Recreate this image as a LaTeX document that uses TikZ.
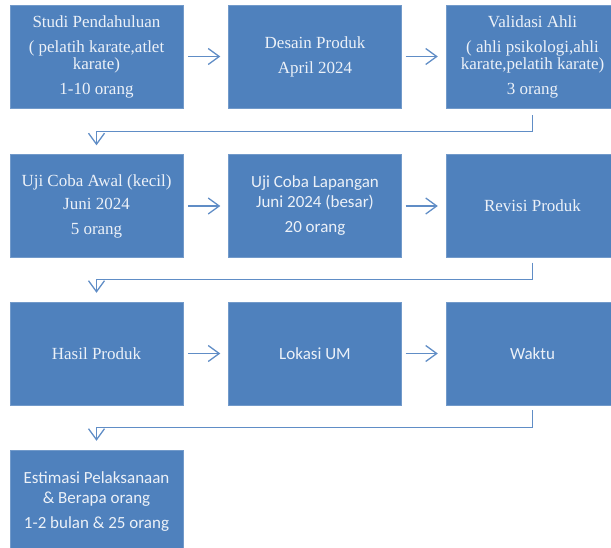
\documentclass[tikz,border=0pt]{standalone}
\usepackage{fontspec}
\setmainfont{Liberation Serif}
\newfontfamily\calibrisub{Carlito}
\usetikzlibrary{arrows.meta}
\definecolor{boxblue}{RGB}{79,129,189}
\definecolor{boxtext}{RGB}{236,241,248}
\definecolor{linkblue}{RGB}{96,141,198}

\begin{document}
\begin{tikzpicture}[x=1pt,y=1pt,>={Straight Barb[length=11pt,width=16pt]},
  stage/.style={draw=boxblue!80!white, fill=boxblue, minimum width=173pt, minimum height=103pt, inner sep=0pt, text=boxtext, align=center},
  serifbox/.style={stage, font=\fontsize{17}{17}\selectfont},
  sansbox/.style={stage, font=\calibrisub\fontsize{17}{20}\selectfont},
  link/.style={->, draw=linkblue, line width=1.3pt}]
  \clip (0,0) rectangle (611,-547);

  % Nodes
  \node[serifbox] (S1) at (96.5,-56.5) {Studi Pendahuluan\\[8pt]( pelatih karate,atlet\\karate)\\[8pt]1-10 orang};
  \node[serifbox] (S2) at (315,-56.5) {Desain Produk\\[8pt]April 2024};
  \node[serifbox] (S3) at (532.5,-56.5) {Validasi Ahli\\[8pt]( ahli psikologi,ahli\\karate,pelatih karate)\\[8pt]3 orang};
  \node[serifbox] (S4) at (96.5,-206) {Uji Coba Awal (kecil)\\[6pt]Juni 2024\\[8pt]5 orang};
  \node[sansbox] (S5) at (315,-206) {Uji Coba Lapangan\\Juni 2024 (besar)\\[5pt]20 orang};
  \node[serifbox] (S6) at (532.5,-206) {Revisi Produk};
  \node[serifbox] (S7) at (96.5,-353.5) {Hasil Produk};
  \node[sansbox] (S8) at (315,-353.5) {Lokasi UM};
  \node[sansbox] (S9) at (532.5,-353.5) {Waktu};
  \node[sansbox] (S10) at (96.5,-501.5) {Estimasi Pelaksanaan\\\& Berapa orang\\[5pt]1-2 bulan \& 25 orang};

  % Arrows
  \draw[link] ([xshift=5pt]S1.east) -- ([xshift=-8pt]S2.west);
  \draw[link] ([xshift=4pt]S2.east) -- ([xshift=-8pt]S3.west);
  \draw[link] ([xshift=5pt]S4.east) -- ([xshift=-8pt]S5.west);
  \draw[link] ([xshift=4pt]S5.east) -- ([xshift=-8pt]S6.west);
  \draw[link] ([xshift=5pt]S7.east) -- ([xshift=-8pt]S8.west);
  \draw[link] ([xshift=4pt]S8.east) -- ([xshift=-8pt]S9.west);
  \draw[link] ([yshift=-7pt]S3.south) -- ++(0,-16) -| ([yshift=9pt]S4.north);
  \draw[link] ([yshift=-5pt]S6.south) -- ++(0,-17) -| ([yshift=9pt]S7.north);
  \draw[link] ([yshift=-5pt]S9.south) -- ++(0,-17) -| ([yshift=9pt]S10.north);
\end{tikzpicture}
\end{document}
